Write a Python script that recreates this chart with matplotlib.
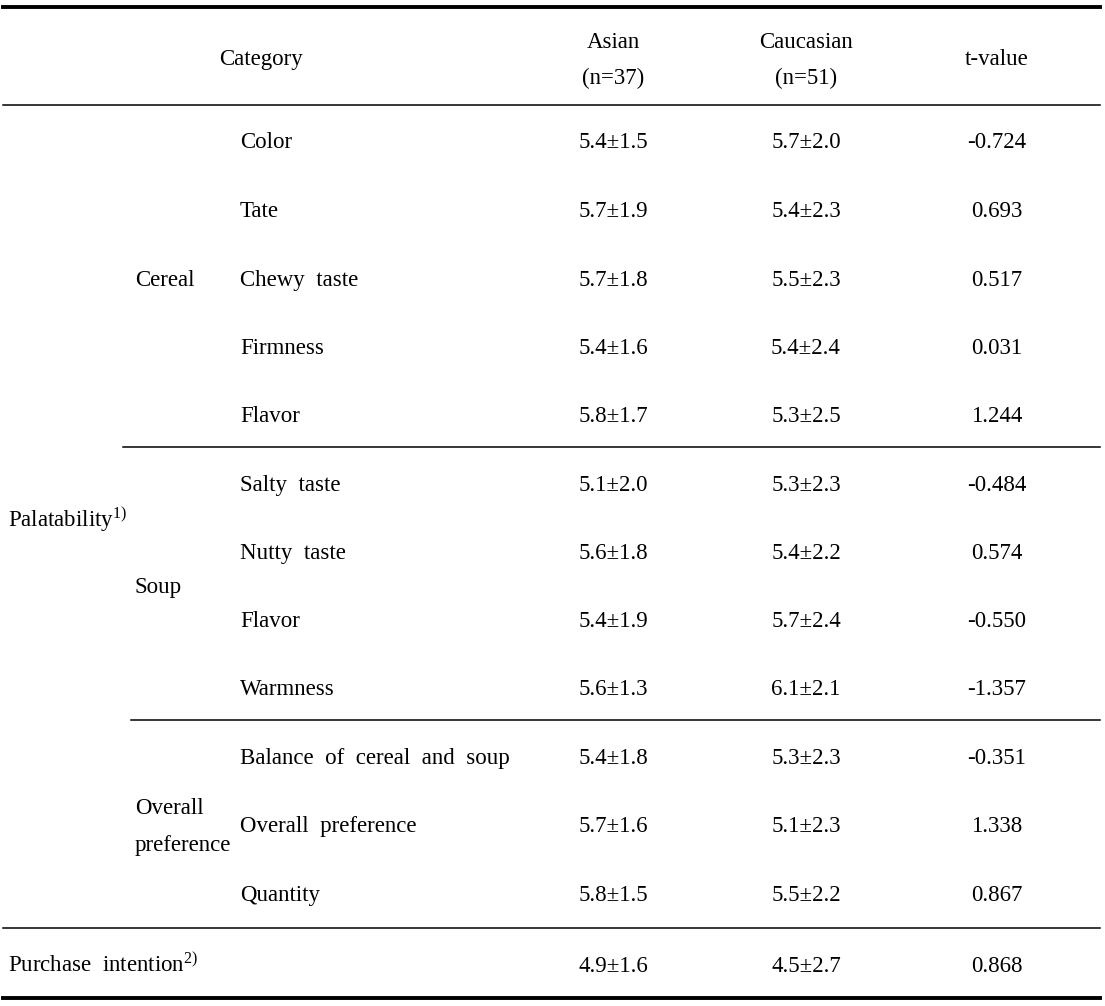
import matplotlib
matplotlib.use("Agg")
import matplotlib.pyplot as plt

plt.rcParams['font.family'] = ['Liberation Serif', 'DejaVu Serif']
plt.rcParams['mathtext.fontset'] = 'custom'
plt.rcParams['mathtext.rm'] = 'Liberation Serif'
plt.rcParams['mathtext.it'] = 'Liberation Serif:italic'

# table content
headers = ["Category", "Asian", "(n=37)", "Caucasian", "(n=51)", "t-value"]
groups = ["Cereal", "Soup", "Overall", "preference"]
items = ["Color", "Tate", "Chewy  taste", "Firmness", "Flavor",
         "Salty  taste", "Nutty  taste", "Flavor", "Warmness",
         "Balance  of  cereal  and  soup", "Overall  preference", "Quantity",
         ""]
asian = ["5.4±1.5", "5.7±1.9", "5.7±1.8", "5.4±1.6", "5.8±1.7",
         "5.1±2.0", "5.6±1.8", "5.4±1.9", "5.6±1.3",
         "5.4±1.8", "5.7±1.6", "5.8±1.5", "4.9±1.6"]
caucasian = ["5.7±2.0", "5.4±2.3", "5.5±2.3", "5.4±2.4", "5.3±2.5",
             "5.3±2.3", "5.4±2.2", "5.7±2.4", "6.1±2.1",
             "5.3±2.3", "5.1±2.3", "5.5±2.2", "4.5±2.7"]
tvalue = ["-0.724", "0.693", "0.517", "0.031", "1.244",
          "-0.484", "0.574", "-0.550", "-1.357",
          "-0.351", "1.338", "0.867", "0.868"]

W, H = 1105, 1006
fig = plt.figure(figsize=(W / 100, H / 100), dpi=100)
ax = fig.add_axes([0, 0, 1, 1])
ax.set_xlim(0, W)
ax.set_ylim(H, 0)
ax.axis('off')

fs = 16.5
bl = 8  # centre of caps -> baseline
row_y = [140, 209, 278, 346, 414, 483, 551, 619, 687, 756, 824, 893, 964]
col_x = [613, 806, 997]


def put(x, y, s, ha='left'):
    ax.text(x, y + bl, s, ha=ha, va='baseline', fontsize=fs)


# header
put(261, 57, headers[0], 'center')
put(col_x[0], 40, headers[1], 'center')
put(col_x[0], 76, headers[2], 'center')
put(col_x[1], 40, headers[3], 'center')
put(col_x[1], 76, headers[4], 'center')
put(col_x[2], 57, headers[5], 'center')

# rows
for i, y in enumerate(row_y):
    put(240, y, items[i])
    put(col_x[0], y, asian[i], 'center')
    put(col_x[1], y, caucasian[i], 'center')
    put(col_x[2], y, tvalue[i], 'center')

put(8, 519, r"Palatability$^{\mathrm{1)}}$")
put(8, 964, r"Purchase  intention$^{\mathrm{2)}}$")
put(135, 278, groups[0])
put(135, 585, groups[1])
put(135, 806, groups[2])
put(135, 843, groups[3])

# rules
ax.plot([3, 1100], [7, 7], color='black', lw=2.8)
ax.plot([3, 1100], [105, 105], color='black', lw=1.1)
ax.plot([123, 1100], [447, 447], color='black', lw=1.1)
ax.plot([131, 1100], [720, 720], color='black', lw=1.1)
ax.plot([3, 1100], [928, 928], color='black', lw=1.1)
ax.plot([3, 1100], [998, 998], color='black', lw=2.8)

fig.savefig("out.png", dpi=100)
